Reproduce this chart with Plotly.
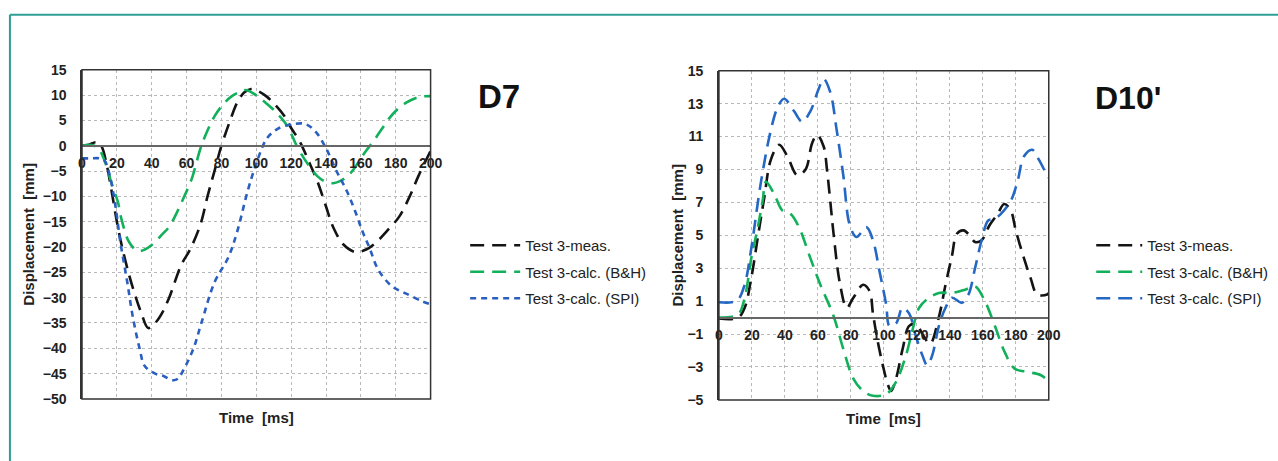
import plotly.graph_objects as go

# ---------------- D7 data ----------------
d7_meas_t = [0, 4, 8, 11, 14, 17, 20, 23, 27, 30, 34, 38, 42, 46, 50, 57, 62, 68, 72, 76, 80, 85, 89, 93, 97,
             101, 106, 111, 116, 120, 125, 130, 135, 140, 144, 150, 157, 163, 169, 175, 182, 188, 193, 200]
d7_meas_v = [0, 0.2, 0.7, 0, -3.5, -9, -15, -20, -25.5, -29, -33, -36, -35, -33, -30, -23.5, -20.5, -15.5, -10, -5,
             0, 5, 8.5, 10.5, 11.2, 10.8, 9.7, 8, 5.9, 3.5, 0.8, -3, -7, -12, -16, -19.5, -21, -20.5, -19, -16.8,
             -14, -10, -6, -1]

d7_bh_t = [0, 4, 7, 10, 13, 17.5, 20.5, 23, 27, 32, 36, 40, 46, 50, 54, 58, 63, 68, 72, 76, 81, 86, 91, 94, 97,
           101, 105, 110, 114, 118, 123, 127, 131, 135, 139, 144, 148, 152, 156, 159, 163, 167, 172, 176, 181,
           186, 193, 200]
d7_bh_v = [0, 0.2, 0, -0.8, -3, -8, -11, -15, -19, -20.8, -20.5, -19.6, -17.5, -16, -13.5, -10.5, -6.5, -0.5, 3,
           5.8, 8.2, 9.8, 10.7, 11, 10.6, 9.7, 8.6, 7.1, 5.6, 3.8, 0.1, -2.3, -4.3, -6, -7, -7.4, -7, -6.1, -4.6,
           -3, -1, 0.8, 3.3, 5.3, 7.2, 8.5, 9.6, 9.8]

d7_spi_t = [0, 5, 10, 13, 16, 19, 22, 26, 29, 33, 36, 42, 47, 52, 55, 58, 64, 68.5, 76, 84, 89, 95, 100, 106,
            112, 120, 128, 134, 140, 146, 152, 157, 161, 165, 170, 178, 186, 195, 200]
d7_spi_v = [-2.5, -2.5, -2.5, -3, -6, -11.5, -19, -27, -33.5, -40, -43.5, -45, -45.5, -46.3, -46, -44.4, -40, -35,
            -27, -22, -17, -9, -3.5, 1.4, 3.3, 4.2, 4.3, 2.8, -0.5, -5, -9, -13.2, -17, -20.2, -24.5, -27.8,
            -29.2, -30.7, -31.3]

# ---------------- D10' data ----------------
d10_meas_t = [0, 11.6, 15.6, 19.6, 23.6, 27.5, 31.5, 36.5, 41.5, 47.5, 52.5, 56.5, 59.5, 63.5, 65.5, 67.5, 69.5,
              73.5, 77.5, 81.5, 87.4, 91.4, 93.4, 96.4, 99.4, 102.4, 104.4, 107.4, 111.4, 115.4, 119.4, 124,
              128, 133.4, 137.4, 141.3, 144.3, 148.3, 152, 155.3, 159.3, 164, 169, 173, 177, 180, 185, 189, 193,
              199, 200]
d10_meas_v = [-0.05, 0, 0.6, 2.4, 4.9, 7.3, 9.6, 10.5, 9.8, 8.65, 9, 10.6, 11.1, 10.4, 9.0, 7.1, 5.1, 2.0, 0.6,
              1.2, 2.0, 1.6, 0.24, -1.5, -2.9, -4.06, -4.45, -3.7, -1.9, -0.5, -0.4, -1.1, -1.6, 0.05, 2, 3.75,
              5.1, 5.3, 5.0, 4.6, 4.7, 5.6, 6.3, 6.9, 6.5, 5.3, 3.6, 2.4, 1.4, 1.4, 1.5]

d10_bh_t = [0, 11.6, 15.6, 19.6, 23.6, 26.5, 28.5, 33.5, 38.5, 43.5, 48.5, 55.5, 61.5, 69.5, 75.4, 81.5, 87.4,
            93.4, 101.4, 107.4, 113.4, 117.4, 121.4, 127.4, 133.4, 141.3, 149.3, 155.3, 161.3, 167.3, 173.3,
            179.3, 187.3, 195.3, 200]
d10_bh_v = [0, 0.2, 1.2, 3.6, 5.5, 7.1, 8.25, 7.5, 6.5, 6.3, 5.5, 3.6, 2.0, 0.1, -1.9, -3.7, -4.45, -4.75,
            -4.65, -3.9, -2.3, -0.75, 0.6, 1.2, 1.5, 1.5, 1.7, 1.9, 1.0, -0.5, -2.1, -3.1, -3.3, -3.5, -3.9]

d10_spi_t = [0, 7.6, 11.6, 15.6, 19.6, 25.5, 31.5, 35.5, 39.5, 45.5, 50.5, 55.5, 60.5, 63.5, 67.5, 71.4, 75.4,
             79.4, 83.4, 89.4, 93.4, 97.4, 101.4, 103.4, 107.4, 111.4, 115.4, 119.4, 123.4, 126.3, 129.3, 133.4,
             137.4, 141.3, 147.3, 151.3, 155.3, 159.3, 163.3, 167, 171, 177, 181, 185, 190, 194, 199, 200]
d10_spi_v = [0.93, 0.93, 1.1, 2.0, 4.2, 8.25, 11.4, 12.75, 13.3, 12.55, 11.9, 12.55, 13.9, 14.5, 13.7, 11.4,
             8.65, 5.6, 4.9, 5.5, 4.7, 2.8, 0.8, -0.5, -0.35, 0.6, 0.24, -1.13, -2.3, -2.9, -2.3, -0.5, 0.6, 1.2,
             0.9, 1.4, 3.0, 4.7, 5.9, 6.0, 6.3, 7.1, 8.25, 9.8, 10.2, 9.6, 8.65, 8.5]

series_names = ["Test 3-meas.", "Test 3-calc. (B&H)", "Test 3-calc. (SPI)"]
x_ticks = [0, 20, 40, 60, 80, 100, 120, 140, 160, 180, 200]
d7_yrange = [-50, 15]
d10_yrange = [-5, 15]

BLACK = "#141414"
GREEN = "#12b05a"
BLUE_L = "#2a5fbf"
BLUE_R = "#2468c4"
FONT = "Liberation Sans"

fig = go.Figure()

def add(t, v, name, color, dash, xa, ya, legend):
    fig.add_trace(go.Scatter(x=t, y=v, name=name, mode="lines", line_shape="spline",
                             line=dict(color=color, width=2.6, dash=dash),
                             xaxis=xa, yaxis=ya, legend=legend, legendgroup=legend + name))

add(d7_meas_t, d7_meas_v, series_names[0], BLACK, "14px,8px", "x", "y", "legend")
add(d7_bh_t, d7_bh_v, series_names[1], GREEN, "14px,8px", "x", "y", "legend")
add(d7_spi_t, d7_spi_v, series_names[2], BLUE_L, "6px,5px", "x", "y", "legend")
add(d10_meas_t, d10_meas_v, series_names[0], BLACK, "14px,8px", "x2", "y2", "legend2")
add(d10_bh_t, d10_bh_v, series_names[1], GREEN, "14px,8px", "x2", "y2", "legend2")
add(d10_spi_t, d10_spi_v, series_names[2], BLUE_R, "14px,8px", "x2", "y2", "legend2")

W, H = 1278, 461
ydom = [1 - 405 / H, 1 - 64 / H]
ydom2 = [1 - 406 / H, 1 - 65 / H]
xdom = [79 / W, 432 / W]
xdom2 = [724 / W, 1058 / W]

def zero_pos(dom, rng):
    return dom[0] + (0 - rng[0]) / (rng[1] - rng[0]) * (dom[1] - dom[0])

tickfont = dict(family=FONT, size=14, color="#222", weight="bold")
titlefont = dict(family=FONT, size=15, color="#222", weight="bold")
grid = dict(showgrid=True, gridcolor="#b8b8b8", griddash="dot", gridwidth=1)

fig.update_layout(
    width=W, height=H, autosize=False,
    margin=dict(l=0, r=0, t=0, b=0),
    paper_bgcolor="white", plot_bgcolor="white",
    xaxis=dict(domain=xdom, range=[0, 200], tickvals=x_ticks, anchor="free",
               position=zero_pos(ydom, d7_yrange), showline=True, linecolor="#666", linewidth=1.5,
               ticks="", ticklabelstandoff=5, tickfont=tickfont, zeroline=False, **grid),
    yaxis=dict(domain=ydom, range=d7_yrange, dtick=5, anchor="x", showline=True, linecolor="#333",
               linewidth=1.5, ticks="", ticklabelstandoff=11, tickfont=tickfont, zeroline=False,
               title=dict(text="Displacement  [mm]", font=titlefont, standoff=4), **grid),
    xaxis2=dict(domain=xdom2, range=[0, 200], tickvals=x_ticks, anchor="free",
                position=zero_pos(ydom2, d10_yrange), showline=True, linecolor="#666", linewidth=1.5,
                ticks="", ticklabelstandoff=5, tickfont=tickfont, zeroline=False, **grid),
    yaxis2=dict(domain=ydom2, range=d10_yrange, tick0=1, dtick=2, anchor="x2", showline=True,
                linecolor="#333", linewidth=1.5, ticks="", ticklabelstandoff=11, tickfont=tickfont,
                zeroline=False,
                title=dict(text="Displacement  [mm]", font=titlefont, standoff=0), **grid),
    legend=dict(x=467 / W, y=1 - 229 / H, xanchor="left", yanchor="top", itemwidth=50,
                font=dict(family=FONT, size=15, color="#222"), tracegroupgap=4, bgcolor="rgba(0,0,0,0)"),
    legend2=dict(x=1101 / W, y=1 - 229 / H, xanchor="left", yanchor="top", itemwidth=46,
                 font=dict(family=FONT, size=15, color="#222"), tracegroupgap=4, bgcolor="rgba(0,0,0,0)"),
    showlegend=True,
)

# plot frames
for xr, yr in [("x domain", "y domain"), ("x2 domain", "y2 domain")]:
    fig.add_shape(type="rect", xref=xr, yref=yr, x0=0, x1=1, y0=0, y1=1,
                  line=dict(color="#333", width=1.5), fillcolor="rgba(0,0,0,0)", layer="above")

# outer teal frame (left and top edges)
fig.add_shape(type="line", xref="paper", yref="paper", x0=6 / W, x1=6 / W, y0=-0.05, y1=1 - 7 / H,
              line=dict(color="#2f9e94", width=2))
fig.add_shape(type="line", xref="paper", yref="paper", x0=6 / W, x1=1.01, y0=1 - 7 / H, y1=1 - 7 / H,
              line=dict(color="#2f9e94", width=2))

# x-axis titles and chart titles
for xr, yr in [("x domain", "y domain"), ("x2 domain", "y2 domain")]:
    fig.add_annotation(text="Time  [ms]", xref=xr, yref=yr, x=0.5, y=0, yanchor="top", yshift=-8,
                       showarrow=False, font=titlefont)

fig.add_annotation(text="D7", xref="paper", yref="paper", x=478 / W, y=1 - 92 / H, xanchor="left",
                   yanchor="middle", showarrow=False, font=dict(family=FONT, size=33, color="#111", weight="bold"))
fig.add_annotation(text="D10'", xref="paper", yref="paper", x=1103 / W, y=1 - 93 / H, xanchor="left",
                   yanchor="middle", showarrow=False, font=dict(family=FONT, size=32, color="#111", weight="bold"))

fig.write_html("out.html")
